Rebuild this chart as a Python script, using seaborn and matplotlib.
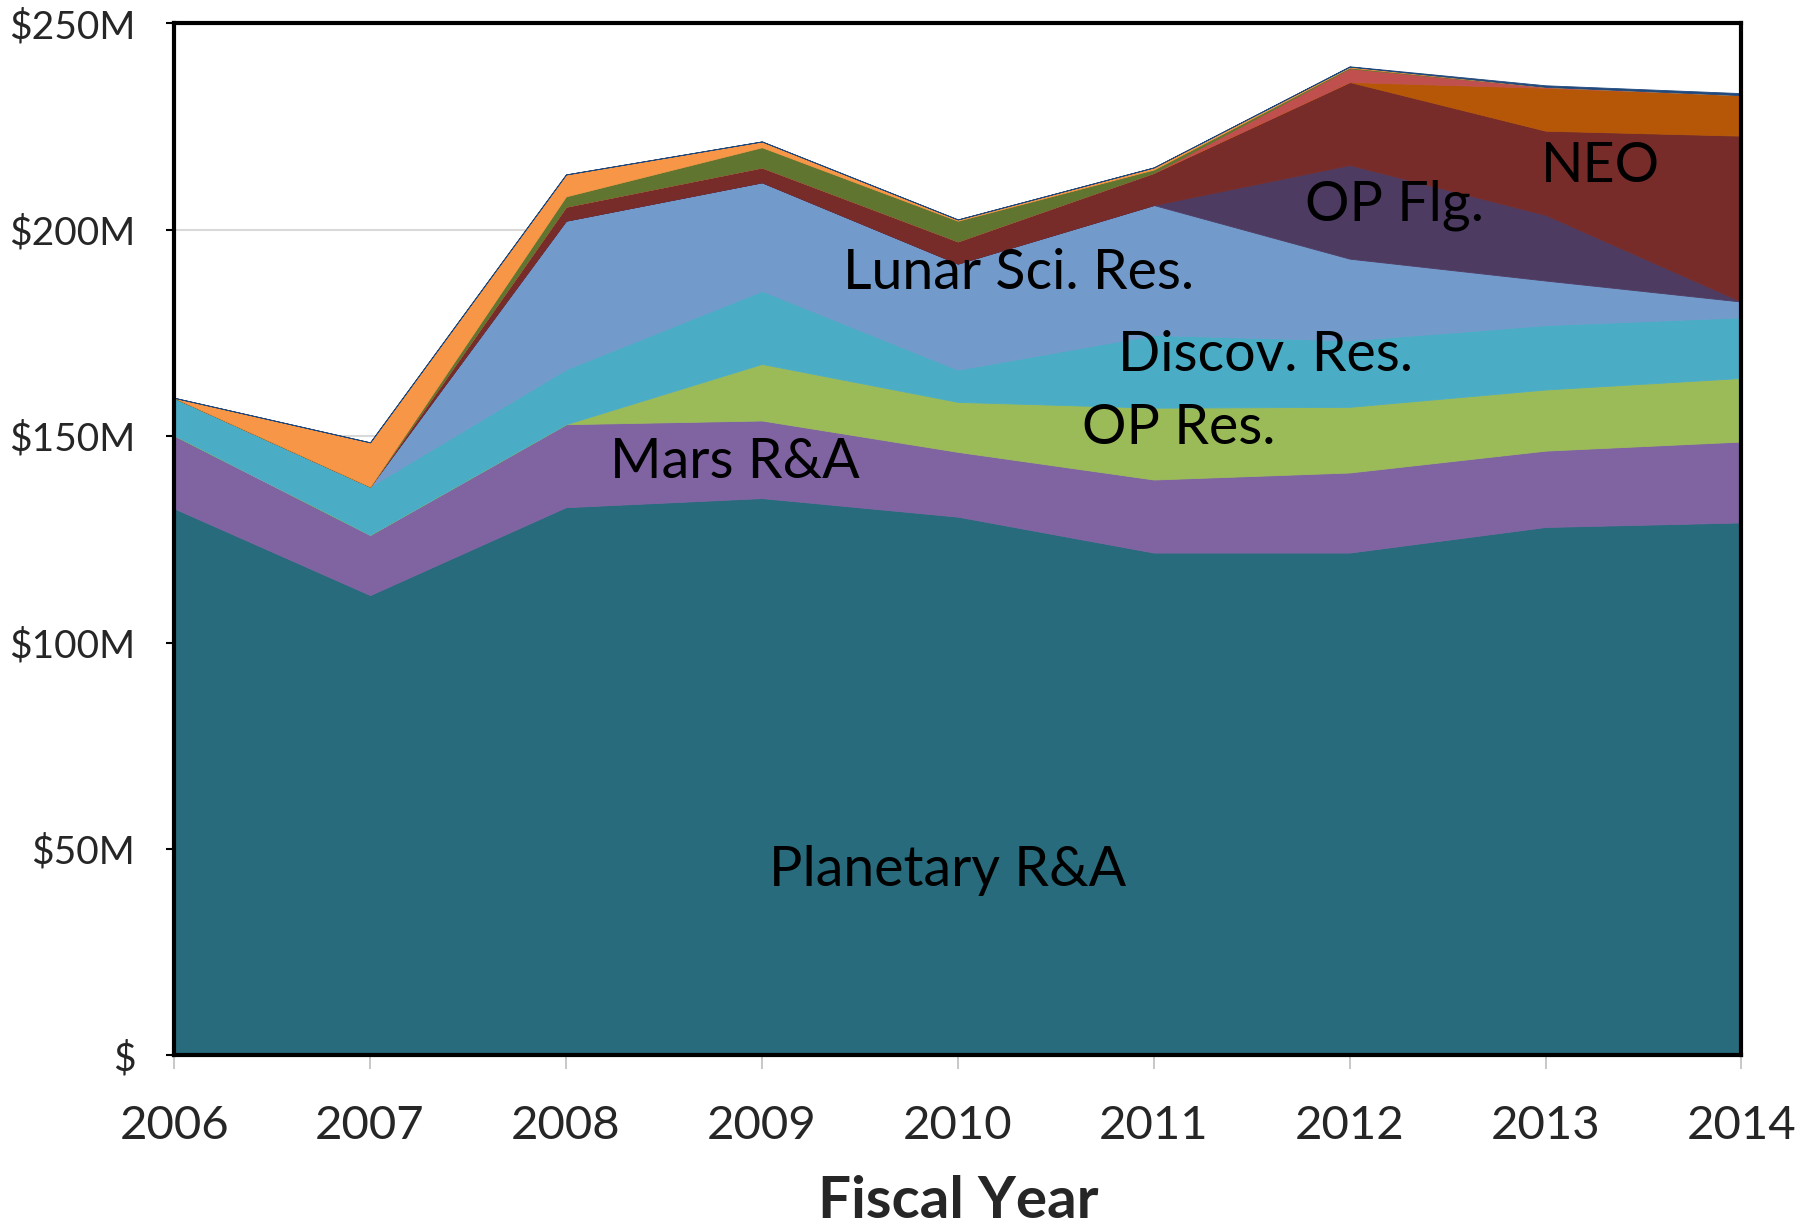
import matplotlib
matplotlib.use("Agg")
import matplotlib.pyplot as plt
import seaborn as sns

# fiscal years and budget lines, $M (stacked bottom -> top)
years = [2006, 2007, 2008, 2009, 2010, 2011, 2012, 2013, 2014]

planetary_ra = [132.5, 111.5, 132.8, 135.0, 130.5, 121.8, 121.8, 128.0, 129.1]
mars_ra = [17.7, 14.6, 20.1, 18.8, 15.7, 17.7, 19.4, 18.5, 19.6]
op_res = [0, 0, 0, 13.7, 12.1, 17.4, 15.9, 14.8, 15.4]
discov_res = [9.1, 11.7, 13.3, 17.7, 7.8, 17.6, 16.1, 15.6, 14.7]
lunar_res = [0, 0, 36.0, 26.3, 25.7, 31.5, 19.8, 10.8, 3.8]
op_flg = [0, 0, 0, 0, 0, 0, 22.7, 15.9, 0]
neo = [0, 0, 3.4, 3.6, 5.4, 7.8, 20.1, 20.4, 40.2]
dark_orange = [0, 0, 0, 0, 0, 0, 0, 10.4, 9.8]
red_line = [0, 0, 0, 0, 0, 0, 3.3, 0.2, 0]
dark_green = [0, 0, 2.5, 4.9, 5.0, 0.8, 0.2, 0, 0]
orange_line = [0, 10.7, 5.3, 1.4, 0.3, 0.5, 0.2, 0, 0]
dark_blue = [0, 0, 0, 0, 0, 0, 0.1, 0.4, 0.5]

series = [planetary_ra, mars_ra, op_res, discov_res, lunar_res, op_flg, neo,
          dark_orange, red_line, dark_green, orange_line, dark_blue]
colors = ['#286b7c', '#8064a2', '#9bbb59', '#4bacc6', '#729aca', '#4d3b62',
          '#772c2a', '#b65708', '#c0504d', '#60752f', '#f79646', '#1f497d']

# in-chart labels (text, x, y)
labels = [
    ("Planetary R&A", 2009.95, 44.8),
    ("Mars R&A", 2008.86, 143.7),
    ("OP Res.", 2011.13, 151.8),
    ("Discov. Res.", 2011.57, 169.5),
    ("Lunar Sci. Res.", 2010.31, 189.4),
    ("OP Flg.", 2012.23, 205.9),
    ("NEO", 2013.28, 215.4),
]

yticks = [0, 50, 100, 150, 200, 250]
yticklabels = ["$", "$50M", "$100M", "$150M", "$200M", "$250M"]

sns.set_theme(style="white")
plt.rcParams['font.family'] = ['Lato', 'DejaVu Sans']

fig, ax = plt.subplots(figsize=(18.14, 12.30), dpi=100)
fig.subplots_adjust(left=0.096, right=0.960, top=0.981, bottom=0.142)

ax.stackplot(years, *series, colors=colors, linewidth=0.6, edgecolor='face', zorder=2)

for txt, x, y in labels:
    ax.text(x, y, txt, ha='center', va='center', fontsize=40, color='black', zorder=3)

ax.set_xlim(2006, 2014)
ax.set_ylim(0, 250)
ax.set_xticks(years)
ax.set_xticklabels([str(y) for y in years], fontsize=34)
ax.set_yticks(yticks)
ax.set_yticklabels(yticklabels, fontsize=28)

ax.yaxis.grid(True, color='#d9d9d9', linewidth=1.5, zorder=0)
ax.set_axisbelow(True)

ax.tick_params(axis='x', which='major', length=10, width=1.2, color='#bfbfbf',
               direction='out', pad=26, bottom=True)
ax.tick_params(axis='y', which='major', length=6, width=1.5, color='black',
               direction='out', pad=22, left=True)

for side in ['top', 'left', 'right', 'bottom']:
    ax.spines[side].set_color('black')
    ax.spines[side].set_linewidth(3)
    ax.spines[side].set_zorder(4)

ax.set_xlabel("Fiscal Year", fontsize=42, fontweight='bold', labelpad=20)

fig.savefig("out.png", dpi=100)
